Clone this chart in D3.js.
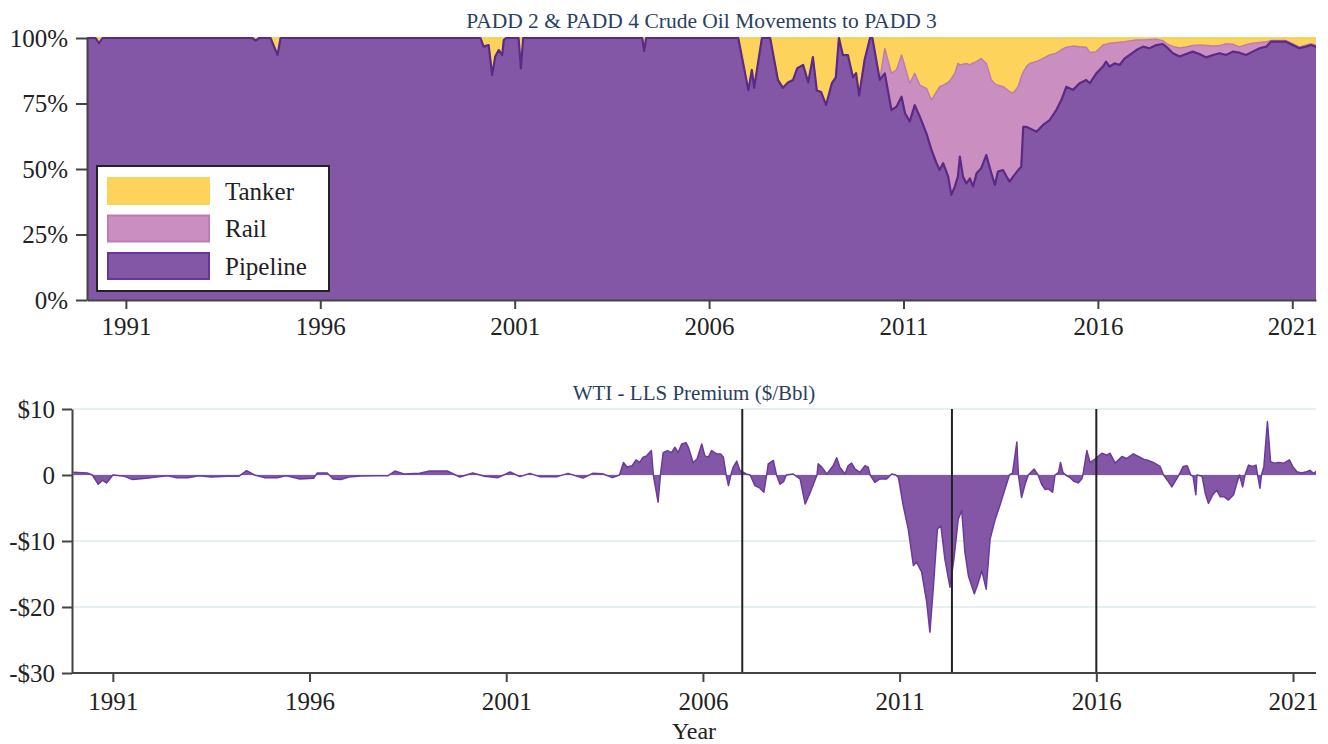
<!DOCTYPE html>
<html>
<head>
<meta charset="utf-8">
<script src="https://cdn.jsdelivr.net/npm/d3@7"></script>
<style>
  body { margin: 0; background: #fff; }
  svg text { font-family: "Liberation Serif", "Times New Roman", serif; }
</style>
</head>
<body>
<div id="chart"></div>
<script>
// Share of PADD 2 & 4 crude moved to PADD 3, by mode (percent)
const shareYears = [
  1990.00, 1990.22, 1990.31, 1990.40, 1994.25, 1994.34, 1994.43, 1994.72, 1994.90, 1994.98,
  2000.12, 2000.20, 2000.33, 2000.42, 2000.50, 2000.59, 2000.68, 2000.72, 2000.78, 2001.10,
  2001.16, 2001.22, 2004.28, 2004.33, 2004.38, 2006.75, 2007.01, 2007.10, 2007.16, 2007.36,
  2007.57, 2007.77, 2007.90, 2008.03, 2008.16, 2008.27, 2008.42, 2008.55, 2008.67, 2008.77,
  2008.88, 2009.01, 2009.16, 2009.26, 2009.34, 2009.44, 2009.57, 2009.70, 2009.78, 2009.86,
  2010.00, 2010.14, 2010.20, 2010.39, 2010.52, 2010.69, 2010.82, 2010.95, 2011.04, 2011.16,
  2011.29, 2011.42, 2011.59, 2011.72, 2011.85, 2011.93, 2012.02, 2012.15, 2012.23, 2012.32,
  2012.40, 2012.45, 2012.53, 2012.62, 2012.71, 2012.79, 2012.88, 2013.00, 2013.13, 2013.26,
  2013.35, 2013.43, 2013.56, 2013.65, 2013.73, 2013.82, 2013.95, 2014.03, 2014.08, 2014.16,
  2014.25, 2014.42, 2014.59, 2014.76, 2014.93, 2015.06, 2015.19, 2015.36, 2015.53, 2015.70,
  2015.79, 2015.96, 2016.13, 2016.21, 2016.30, 2016.43, 2016.56, 2016.69, 2016.81, 2016.99,
  2017.16, 2017.33, 2017.50, 2017.67, 2017.80, 2017.93, 2018.10, 2018.27, 2018.44, 2018.61,
  2018.79, 2018.96, 2019.13, 2019.30, 2019.47, 2019.64, 2019.81, 2019.98, 2020.16, 2020.33,
  2020.45, 2020.66, 2020.84, 2021.01, 2021.18, 2021.35, 2021.48, 2021.61
];
const pipelineShare = [
  100, 100, 98, 100, 100, 99, 100, 100, 93.5, 100,
  100, 96.7, 97.3, 85.9, 92.9, 95.4, 93.5, 99.2, 100, 100,
  88.4, 100, 100, 95, 100, 100, 80, 87.8, 81, 100,
  100, 84, 81, 83, 84, 88.5, 89.7, 83, 92.7, 80,
  79.4, 74.4, 82.8, 85, 100, 93.5, 93.5, 85, 86.6, 78,
  91.6, 100, 100, 84, 86.5, 72.5, 73.8, 77.6, 71.3, 68.1,
  74.4, 70, 63.6, 57.3, 52.2, 49.6, 52.2, 47.1, 40.1, 43.3,
  47.1, 54.7, 47.1, 44.5, 46.4, 43.3, 48.4, 50.3, 55.3, 48.4,
  43.9, 49, 49.6, 47.1, 45.2, 47.1, 49.6, 50.9, 66.1, 66.1,
  65.5, 64.2, 66.8, 68.7, 72.5, 76.3, 81.4, 80.2, 82.7, 84,
  82.7, 86.5, 89.1, 91, 89.1, 90.3, 89.7, 92.2, 93.5, 95.4,
  96.7, 96.1, 97.3, 97.7, 96.1, 94.2, 92.9, 93.9, 94.8, 93.9,
  92.6, 93.5, 94.2, 93.5, 94.8, 94.4, 93.5, 94.8, 96.1, 96.7,
  98.6, 98.6, 98.6, 97.3, 96.1, 96.7, 97.3, 96.7
];
const railShare = [
  0, 0, 0, 0, 0, 0, 0, 0, 0, 0,
  0, 0, 0, 0, 0, 0, 0, 0, 0, 0,
  0, 0, 0, 0, 0, 0, 0, 0, 0, 0,
  0, 0, 0, 0, 0, 0, 0, 0, 0, 0,
  0, 0, 0, 0, 0, 0, 0, 0, 0, 0,
  0, 0, 0, 0, 9.5, 14, 14, 15.9, 17.7, 14.6,
  12.1, 12, 17.2, 19, 27.3, 31.8, 29.8, 35.9, 44.4, 43.2,
  43.2, 35, 42.9, 45.8, 43.3, 47.2, 42.6, 41.9, 35, 35.6,
  38.6, 33, 31.8, 33.4, 34.3, 31.9, 31.8, 34.3, 20.9, 23,
  24.8, 26.8, 25.4, 24.8, 21.7, 19.2, 15.1, 16.7, 14, 12.5,
  11.8, 8.3, 8.2, 6.6, 8.9, 7.9, 8.7, 6.4, 5.4, 3.8,
  2.5, 3.3, 2.2, 1.3, 1.4, 2.6, 3.3, 2.7, 2.3, 3.4,
  4.5, 3.4, 2.9, 4.3, 2.8, 2.2, 3.9, 3.2, 2.2, 1.9,
  0.4, 0.4, 0.4, 0.5, 0.5, 0.5, 0.5, 0.5
];
const tankerShare = [
  0, 0, 2, 0, 0, 1, 0, 0, 6.5, 0,
  0, 3.3, 2.7, 14.1, 7.1, 4.6, 6.5, 0.8, 0, 0,
  11.6, 0, 0, 5, 0, 0, 20, 12.2, 19, 0,
  0, 16, 19, 17, 16, 11.5, 10.3, 17, 7.3, 20,
  20.6, 25.6, 17.2, 15, 0, 6.5, 6.5, 15, 13.4, 22,
  8.4, 0, 0, 16, 4, 13.5, 12.2, 6.5, 11, 17.3,
  13.5, 18, 19.2, 23.7, 20.5, 18.6, 18, 17, 15.5, 13.5,
  9.7, 10.3, 10, 9.7, 10.3, 9.5, 9, 7.8, 9.7, 16,
  17.5, 18, 18.6, 19.5, 20.5, 21, 18.6, 14.8, 13, 10.9,
  9.7, 9, 7.8, 6.5, 5.8, 4.5, 3.5, 3.1, 3.3, 3.5,
  5.5, 5.2, 2.7, 2.4, 2, 1.8, 1.6, 1.4, 1.1, 0.8,
  0.8, 0.6, 0.5, 1, 2.5, 3.2, 3.8, 3.4, 2.9, 2.7,
  2.9, 3.1, 2.9, 2.2, 2.4, 3.4, 2.6, 2, 1.7, 1.4,
  1, 1, 1, 2.2, 3.4, 2.8, 2.2, 2.8
];

// WTI - LLS premium ($/bbl)
const premiumYears = [
  1990.00, 1990.35, 1990.48, 1990.63, 1990.74, 1990.84, 1991.00, 1991.30, 1991.50, 1991.86,
  1992.10, 1992.40, 1992.60, 1992.90, 1993.20, 1993.50, 1993.90, 1994.20, 1994.40, 1994.60,
  1994.85, 1995.20, 1995.40, 1995.55, 1995.75, 1996.10, 1996.20, 1996.45, 1996.60, 1996.80,
  1997.00, 1997.30, 1997.70, 1998.00, 1998.17, 1998.40, 1998.80, 1999.05, 1999.50, 1999.82,
  2000.15, 2000.45, 2000.79, 2001.10, 2001.35, 2001.60, 2001.85, 2002.30, 2002.57, 2002.95,
  2003.20, 2003.45, 2003.70, 2003.88, 2003.98, 2004.07, 2004.20, 2004.30, 2004.39, 2004.48,
  2004.57, 2004.69, 2004.74, 2004.86, 2004.92, 2004.99, 2005.10, 2005.20, 2005.29, 2005.37,
  2005.46, 2005.57, 2005.63, 2005.75, 2005.85, 2005.97, 2006.05, 2006.14, 2006.22, 2006.35,
  2006.45, 2006.52, 2006.59, 2006.65, 2006.71, 2006.77, 2006.86, 2006.94, 2007.10, 2007.20,
  2007.32, 2007.45, 2007.55, 2007.62, 2007.66, 2007.79, 2007.87, 2007.96, 2008.05, 2008.12,
  2008.29, 2008.47, 2008.60, 2008.73, 2008.86, 2008.90, 2008.93, 2009.02, 2009.15, 2009.31,
  2009.40, 2009.48, 2009.61, 2009.69, 2009.78, 2009.87, 2009.99, 2010.12, 2010.20, 2010.25,
  2010.37, 2010.50, 2010.67, 2010.80, 2010.90, 2010.97, 2011.09, 2011.22, 2011.35, 2011.43,
  2011.56, 2011.69, 2011.77, 2011.86, 2011.96, 2012.05, 2012.15, 2012.28, 2012.38, 2012.49,
  2012.58, 2012.66, 2012.75, 2012.90, 2013.00, 2013.09, 2013.20, 2013.30, 2013.43, 2013.55,
  2013.68, 2013.79, 2013.87, 2013.98, 2014.02, 2014.10, 2014.19, 2014.27, 2014.42, 2014.52,
  2014.61, 2014.70, 2014.78, 2014.89, 2014.95, 2015.04, 2015.09, 2015.15, 2015.22, 2015.32,
  2015.42, 2015.54, 2015.63, 2015.66, 2015.76, 2015.84, 2015.97, 2016.14, 2016.27, 2016.35,
  2016.48, 2016.65, 2016.77, 2016.94, 2017.07, 2017.20, 2017.32, 2017.45, 2017.62, 2017.71,
  2017.83, 2017.92, 2018.05, 2018.10, 2018.21, 2018.31, 2018.40, 2018.46, 2018.53, 2018.56,
  2018.69, 2018.77, 2018.85, 2018.96, 2019.06, 2019.15, 2019.25, 2019.36, 2019.49, 2019.57,
  2019.64, 2019.72, 2019.78, 2019.87, 2019.97, 2020.06, 2020.10, 2020.16, 2020.20, 2020.26,
  2020.35, 2020.43, 2020.53, 2020.63, 2020.77, 2020.91, 2021.00, 2021.10, 2021.22, 2021.34,
  2021.43, 2021.52, 2021.61
];
const premiumValues = [
  0.4, 0.3, 0, -1.4, -0.8, -1.2, 0, -0.2, -0.7, -0.5,
  -0.3, -0.1, -0.4, -0.4, -0.1, -0.3, -0.2, -0.2, 0.65, 0,
  -0.4, -0.4, -0.1, -0.3, -0.6, -0.5, 0.3, 0.3, -0.6, -0.7,
  -0.3, -0.15, -0.1, -0.1, 0.6, 0.15, 0.25, 0.6, 0.6, -0.3,
  0.3, -0.2, -0.4, 0.45, -0.25, 0.25, -0.25, -0.25, 0.25, -0.45,
  0.25, 0.2, -0.4, 0, 1.9, 1.2, 1.4, 2.3, 1.9, 2.7,
  2.9, 3.7, 0, -4.1, 0, 3.4, 3.7, 3.4, 4.2, 3.4,
  4.7, 4.9, 4.2, 1.9, 2.4, 4.7, 2.9, 2.7, 3.7, 3.2,
  3.2, 2.7, 0, -1.6, 0, 1.2, 2.1, 0.7, 0.15, 0,
  -1.6, -2.0, -2.6, 0, 1.7, 2.2, 0, -1.4, -1.0, 0,
  0.15, -0.6, -4.4, -2.6, -0.6, 0, 1.7, 1.2, 0.15, 1.4,
  2.6, 1.2, 0.15, 1.4, 1.8, 0.9, 0.4, 1.4, 1.2, 0,
  -1.1, -0.6, -0.6, 0.15, 0, -0.35, -4.6, -8.2, -13.7, -13.2,
  -14.7, -19.3, -23.8, -16.8, -8.2, -7.7, -12.7, -17.0, -12.7, -6.7,
  -5.4, -11.7, -15.3, -18.0, -16.3, -14.5, -17.3, -9.7, -6.7, -4.6,
  -2.1, 0, 0.3, 5.0, 0, -3.4, -1.4, 0, 0.9, 0,
  -1.4, -2.2, -2.1, -2.6, 0, 0.4, 1.9, 0.4, 0, -0.35,
  -0.9, -1.2, -0.6, 0, 3.7, 1.9, 2.4, 3.3, 3.0, 3.3,
  1.8, 2.8, 2.5, 3.2, 2.8, 2.4, 2.2, 1.9, 1.3, 0,
  -1.0, -1.8, -0.5, 0, 1.3, 1.4, 0, -0.2, -3.0, 0,
  -0.2, -2.8, -4.3, -3.0, -2.3, -3.3, -3.3, -3.8, -3.0, -1.3,
  0, -1.8, 0, 1.5, 1.3, 1.5, 0, -2.0, 0, 1.3,
  8.1, 2.0, 1.8, 1.9, 1.8, 2.3, 1.2, 0.5, 0.3, 0.5,
  0.7, 0.25, 0.6
];

const modes = ["pipeline", "rail", "tanker"];
const legendItems = ["Tanker", "Rail", "Pipeline"];
const shareTicks = [0, 25, 50, 75, 100];
const premiumTicks = [-30, -20, -10, 0, 10];
const yearTicks = [1991, 1996, 2001, 2006, 2011, 2016, 2021];
const eventYears = [2007.0, 2012.33, 2016.0];

const colors = {
    pipeline: "#8357a6", pipelineLine: "#5a2a86",
    rail: "#cb8ec0", railLine: "#bd7db2",
    tanker: "#fdd35c", tankerLine: "#f6c94a"
};

const W = 1328, H = 744;
const svg = d3.select("#chart").append("svg")
    .attr("width", W)
    .attr("height", H);

const xDomain = [d3.min(shareYears), d3.max(shareYears)];

// ---------- top panel: stacked shares ----------
const topBox = { left: 87, right: 1316, top: 38, bottom: 300 };
const xTop = d3.scaleLinear().domain(xDomain).range([topBox.left, topBox.right]);
const yShare = d3.scaleLinear().domain([0, 100]).range([topBox.bottom, topBox.top]);

const shareRows = shareYears.map((yr, i) => ({
    year: yr, pipeline: pipelineShare[i], rail: railShare[i], tanker: tankerShare[i]
}));
const stacked = d3.stack().keys(modes)(shareRows);

svg.append("clipPath").attr("id", "clipTop")
    .append("rect")
    .attr("x", topBox.left).attr("y", topBox.top - 2)
    .attr("width", topBox.right - topBox.left).attr("height", topBox.bottom - topBox.top + 2);

const topG = svg.append("g").attr("clip-path", "url(#clipTop)");

const shareArea = d3.area()
    .x(d => xTop(d.data.year))
    .y0(d => yShare(d[0]))
    .y1(d => yShare(d[1]));
const shareEdge = d3.line()
    .x(d => xTop(d.data.year))
    .y(d => yShare(d[1]));

// tanker first so the lower layers' edges sit on top
stacked.slice().reverse().forEach(layer => {
    topG.append("path")
        .datum(layer)
        .attr("fill", colors[layer.key])
        .attr("d", shareArea);
});
stacked.slice().reverse().forEach(layer => {
    topG.append("path")
        .datum(layer)
        .attr("fill", "none")
        .attr("stroke", colors[layer.key + "Line"])
        .attr("stroke-width", layer.key === "pipeline" ? 2.2 : 1.5)
        .attr("stroke-linejoin", "round")
        .attr("d", shareEdge);
});

function styleAxis(g) {
    g.attr("font-size", null).attr("font-family", null);
    g.select(".domain").attr("stroke", "#444").attr("stroke-width", 2);
    g.selectAll(".tick line").attr("stroke", "#444").attr("stroke-width", 2);
    g.selectAll(".tick text")
        .attr("fill", "#222")
        .style("font-size", "25px");
}

svg.append("g")
    .attr("transform", `translate(0,${topBox.bottom})`)
    .call(d3.axisBottom(xTop).tickValues(yearTicks).tickFormat(d3.format("d"))
        .tickSize(9).tickPadding(8).tickSizeOuter(0))
    .call(styleAxis);

svg.append("g")
    .attr("transform", `translate(${topBox.left},0)`)
    .call(d3.axisLeft(yShare).tickValues(shareTicks).tickFormat(d => d + "%")
        .tickSize(11).tickPadding(8).tickSizeOuter(0))
    .call(styleAxis);

svg.append("text")
    .attr("x", (topBox.left + topBox.right) / 2)
    .attr("y", 28)
    .attr("text-anchor", "middle")
    .attr("fill", "#2a3f5f")
    .style("font-size", "21.5px")
    .text("PADD 2 & PADD 4 Crude Oil Movements to PADD 3");

// legend
const legend = svg.append("g").attr("transform", "translate(97,166)");
legend.append("rect")
    .attr("width", 232).attr("height", 125)
    .attr("fill", "#fff")
    .attr("stroke", "#222")
    .attr("stroke-width", 2);
const swatchBorder = { Tanker: colors.tanker, Rail: colors.railLine, Pipeline: "#6a3598" };
legendItems.forEach((name, i) => {
    const key = name.toLowerCase();
    const row = legend.append("g").attr("transform", `translate(11,${12 + i * 37.5})`);
    row.append("rect")
        .attr("width", 101).attr("height", 26)
        .attr("fill", colors[key])
        .attr("stroke", swatchBorder[name])
        .attr("stroke-width", 2);
    row.append("text")
        .attr("x", 117).attr("y", 13)
        .attr("dy", "0.35em")
        .attr("fill", "#222")
        .style("font-size", "25px")
        .text(name);
});

// ---------- bottom panel: WTI - LLS premium ----------
const botBox = { left: 72, right: 1316, top: 409, bottom: 673 };
const xBot = d3.scaleLinear().domain(xDomain).range([botBox.left + 1.5, botBox.right + 1]);
const yPrem = d3.scaleLinear().domain([-30, 10]).range([botBox.bottom, botBox.top]);

svg.append("g")
    .selectAll("line")
    .data(premiumTicks.filter(t => t > -30))
    .join("line")
    .attr("x1", botBox.left).attr("x2", botBox.right)
    .attr("y1", d => yPrem(d)).attr("y2", d => yPrem(d))
    .attr("stroke", "#e6f0f3")
    .attr("stroke-width", 2);

const premRows = premiumYears.map((yr, i) => ({ year: yr, value: premiumValues[i] }));

svg.append("clipPath").attr("id", "clipBot")
    .append("rect")
    .attr("x", botBox.left).attr("y", botBox.top)
    .attr("width", botBox.right - botBox.left).attr("height", botBox.bottom - botBox.top);

const botG = svg.append("g").attr("clip-path", "url(#clipBot)");

botG.append("path")
    .datum(premRows)
    .attr("fill", colors.pipeline)
    .attr("d", d3.area()
        .x(d => xBot(d.year))
        .y0(yPrem(0))
        .y1(d => yPrem(d.value)));

botG.append("path")
    .datum(premRows)
    .attr("fill", "none")
    .attr("stroke", "#6a3a9c")
    .attr("stroke-width", 1.5)
    .attr("stroke-linejoin", "round")
    .attr("d", d3.line()
        .x(d => xBot(d.year))
        .y(d => yPrem(d.value)));

svg.append("g")
    .selectAll("line")
    .data(eventYears)
    .join("line")
    .attr("x1", d => xBot(d)).attr("x2", d => xBot(d))
    .attr("y1", botBox.top).attr("y2", botBox.bottom)
    .attr("stroke", "#222")
    .attr("stroke-width", 2);

// x axis for the lower panel, with the domain line spanning the full plot width
const xAxisBot = svg.append("g")
    .attr("transform", `translate(0,${botBox.bottom})`)
    .call(d3.axisBottom(xBot).tickValues(yearTicks).tickFormat(d3.format("d"))
        .tickSize(9).tickPadding(10).tickSizeOuter(0))
    .call(styleAxis);
xAxisBot.select(".domain").attr("d", `M${botBox.left},0H${botBox.right}`);

svg.append("g")
    .attr("transform", `translate(${botBox.left},0)`)
    .call(d3.axisLeft(yPrem).tickValues(premiumTicks)
        .tickFormat(d => d === 0 ? "0" : (d < 0 ? "-$" + Math.abs(d) : "$" + d))
        .tickSize(10).tickPadding(7).tickSizeOuter(0))
    .call(styleAxis);

svg.append("text")
    .attr("x", (botBox.left + botBox.right) / 2)
    .attr("y", 400)
    .attr("text-anchor", "middle")
    .attr("fill", "#2a3f5f")
    .style("font-size", "21px")
    .text("WTI - LLS Premium ($/Bbl)");

svg.append("text")
    .attr("x", (botBox.left + botBox.right) / 2)
    .attr("y", 739)
    .attr("text-anchor", "middle")
    .attr("fill", "#222")
    .style("font-size", "24px")
    .text("Year");
</script>
</body>
</html>
